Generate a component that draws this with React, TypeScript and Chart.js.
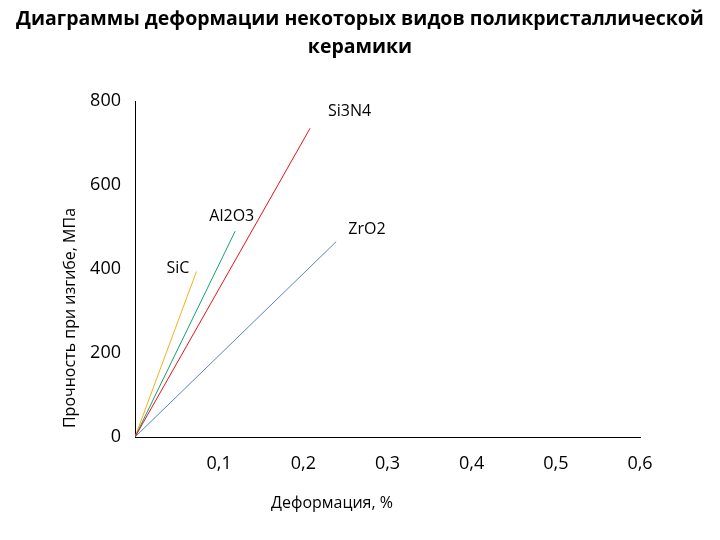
import React, { useEffect, useRef } from "react";
import { Chart, registerables } from "chart.js";

Chart.register(...registerables);

const titleLines = [
  "Диаграммы деформации некоторых видов поликристаллической",
  "керамики",
];
const xAxisTitle = "Деформация, %";
const yAxisTitle = "Прочность при изгибе, МПа";

const seriesNames = ["Si3N4", "Al2O3", "SiC", "ZrO2"];
const seriesColors = ["#e8121b", "#12a46a", "#f2b01e", "#5b82c8"];
// strain (%) and strength (MPa): start and end points of each line
const strainSi3N4 = [0, 0.208];
const stressSi3N4 = [0, 735];
const strainAl2O3 = [0, 0.119];
const stressAl2O3 = [0, 490];
const strainSiC = [0, 0.073];
const stressSiC = [0, 394];
const strainZrO2 = [0, 0.239];
const stressZrO2 = [0, 465];

// label anchor positions in data units
const labelStrain = [0.255, 0.115, 0.051, 0.2755];
const labelStress = [776, 524, 402, 495];

const xTicks = [0, 0.1, 0.2, 0.3, 0.4, 0.5, 0.6];
const yTicks = [0, 200, 400, 600, 800];

const FONT = "'Open Sans', 'DejaVu Sans', sans-serif";

function toPoints(xs: number[], ys: number[]) {
  return xs.map((x, i) => ({ x, y: ys[i] }));
}

export default function App() {
  const ref = useRef<HTMLCanvasElement | null>(null);

  useEffect(() => {
    if (!ref.current) return;
    const allX = [strainSi3N4, strainAl2O3, strainSiC, strainZrO2];
    const allY = [stressSi3N4, stressAl2O3, stressSiC, stressZrO2];

    const textPlugin = {
      id: "textPlugin",
      afterDraw(chart: any) {
        const ctx = chart.ctx;
        const xs = chart.scales.x;
        const ys = chart.scales.y;
        ctx.save();
        ctx.fillStyle = "#000";
        ctx.textAlign = "center";
        ctx.textBaseline = "middle";
        ctx.font = `bold 19.5px ${FONT}`;
        ctx.fillText(titleLines[0], 360, 19);
        ctx.fillText(titleLines[1], 360, 47);

        ctx.font = `16px ${FONT}`;
        ctx.fillText(xAxisTitle, 332, 503);
        ctx.save();
        ctx.translate(70, 318);
        ctx.rotate(-Math.PI / 2);
        ctx.fillText(yAxisTitle, 0, 0);
        ctx.restore();

        ctx.font = `16px ${FONT}`;
        seriesNames.forEach((n, i) => {
          ctx.fillText(
            n,
            xs.getPixelForValue(labelStrain[i]),
            ys.getPixelForValue(labelStress[i])
          );
        });
        ctx.restore();
      },
    };

    const chart = new Chart(ref.current, {
      type: "scatter",
      data: {
        datasets: seriesNames.map((n, i) => ({
          label: n,
          data: toPoints(allX[i], allY[i]),
          showLine: true,
          borderColor: seriesColors[i],
          backgroundColor: seriesColors[i],
          borderWidth: 1,
          pointRadius: 0,
          pointHoverRadius: 0,
        })),
      },
      options: {
        responsive: false,
        animation: false,
        layout: { padding: { left: 0, right: 80, top: 101, bottom: 0 } },
        plugins: {
          legend: { display: false },
          tooltip: { enabled: false },
          title: { display: false },
        },
        scales: {
          x: {
            type: "linear",
            min: 0,
            max: 0.6,
            afterBuildTicks: (s: any) => {
              s.ticks = xTicks.map((v) => ({ value: v }));
            },
            afterFit: (s: any) => {
              s.height = 103;
            },
            grid: { display: false, drawTicks: false },
            border: { display: true, color: "#000", width: 1 },
            ticks: {
              padding: 16,
              color: "#000",
              font: { family: FONT, size: 18 },
              callback: (v: any) =>
                Number(v) === 0 ? "" : Number(v).toFixed(1).replace(".", ","),
            },
          },
          y: {
            type: "linear",
            min: 0,
            max: 800,
            afterBuildTicks: (s: any) => {
              s.ticks = yTicks.map((v) => ({ value: v }));
            },
            afterFit: (s: any) => {
              s.width = 135;
            },
            grid: { display: false, drawTicks: false },
            border: { display: true, color: "#000", width: 1 },
            ticks: {
              padding: 14,
              color: "#000",
              font: { family: FONT, size: 18 },
              callback: (v: any) => String(v),
            },
          },
        },
      },
      plugins: [textPlugin],
    });
    return () => chart.destroy();
  }, []);

  return (
    <div style={{ position: "absolute", left: 0, top: 0, width: 720, height: 540, background: "#fff" }}>
      <canvas ref={ref} width={720} height={540} />
    </div>
  );
}
